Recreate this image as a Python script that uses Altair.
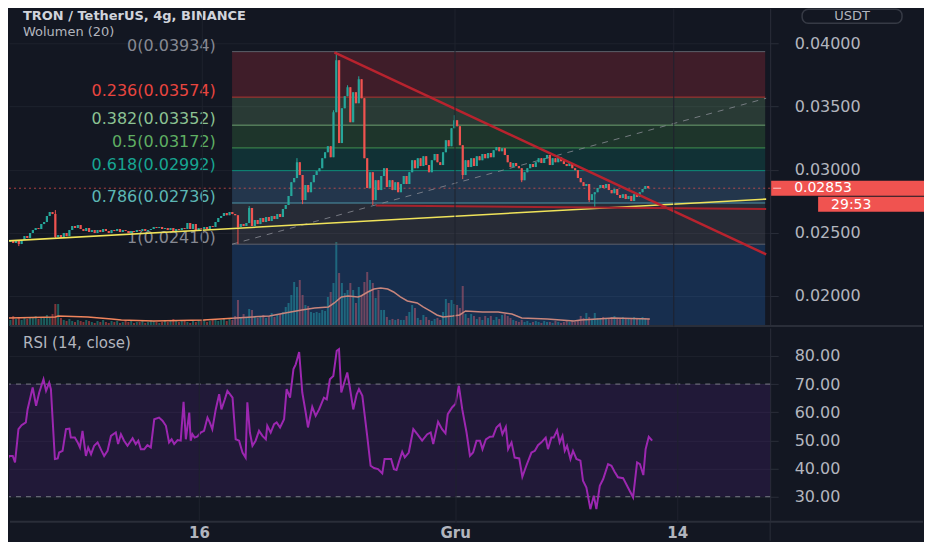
import altair as alt
import pandas as pd

# ---------------- DATA ----------------
# TRX/USDT 4h candles, close prices in units of 1e-5 USDT
close_e5 = [
    2427, 2443, 2419, 2435, 2411, 2443, 2474, 2459, 2498, 2522,
    2538, 2530, 2569, 2585, 2633, 2664, 2648, 2467, 2482, 2459,
    2498, 2474, 2522, 2554, 2538, 2561, 2530, 2514, 2538, 2506,
    2522, 2498, 2522, 2506, 2530, 2514, 2498, 2522, 2514, 2530,
    2506, 2522, 2514, 2498, 2514, 2506, 2522, 2514, 2530, 2514,
    2522, 2530, 2546, 2538, 2546, 2530, 2538, 2522, 2538, 2514,
    2530, 2522, 2538, 2530, 2577, 2530, 2569, 2522, 2538, 2530,
    2546, 2530, 2554, 2546, 2585, 2617, 2633, 2656, 2640, 2664,
    2648, 2640, 2546, 2569, 2554, 2577, 2696, 2554, 2601, 2569,
    2617, 2585, 2625, 2593, 2633, 2609, 2648, 2625, 2688, 2720,
    2791, 2901, 2933, 3059, 2957, 2759, 2878, 2822, 2901, 2957,
    2988, 3012, 3091, 3138, 3186, 3099, 3455, 3866, 3210, 3486,
    3581, 3652, 3376, 3613, 3526, 3715, 3565, 3091, 2854, 2980,
    2759, 2917, 2838, 2949, 3012, 2862, 2917, 2838, 2901, 2822,
    2886, 2949, 2886, 2980, 3075, 3012, 3091, 3028, 3107, 3036,
    2980, 3075, 3123, 3059, 3036, 3138, 3233, 3186, 3328, 3391,
    3344, 3194, 2957, 3075, 3020, 3091, 3028, 3107, 3075, 3123,
    3091, 3131, 3099, 3154, 3178, 3146, 3170, 3115, 3059, 3020,
    3052, 3028, 3012, 2917, 2980, 3012, 3044, 3020, 3059, 3091,
    3052, 3091, 3115, 3036, 3091, 3059, 3099, 3067, 3044, 3028,
    3052, 3012, 2996, 2933, 2901, 2870, 2886, 2759, 2806, 2822,
    2854, 2878, 2854, 2886, 2838, 2814, 2846, 2799, 2775, 2806,
    2767, 2791, 2751, 2806, 2783, 2822, 2846, 2870, 2853,
]
first_open = 0.02443
# notable wicks (candle index -> price)
wick_high = {17: 0.02680, 86: 0.02712, 103: 0.03091, 116: 0.03470, 117: 0.03934,
             121: 0.03668, 125: 0.03739, 159: 0.03431}
wick_low = {4: 0.02395, 17: 0.02451, 82: 0.02410, 105: 0.02727, 130: 0.02720,
            162: 0.02925, 183: 0.02901, 207: 0.02743, 209: 0.02704}

# volume per candle (millions TRX)
volume_m = [
    80, 60, 100, 70, 90, 60, 80, 70, 90, 80, 100, 70, 90, 80, 110, 90, 120,
    220, 220,
    80, 60, 50, 70, 50, 40, 60, 50, 40, 60,
    50, 40, 30, 50, 40, 60, 40, 30, 50, 40,
    50, 30, 40, 60, 40, 50, 30, 40, 40, 50,
    30, 40, 60, 50, 40, 30, 40, 50, 40, 50,
    70, 50, 40, 60, 50, 40, 30, 50, 40, 60,
    50, 60, 40, 50, 70, 60, 50, 60, 80, 50,
    70, 60,
    100, 260, 90, 120, 80, 170, 160, 100, 80, 90,
    110, 80, 100, 130, 90, 110, 120, 140, 190, 230,
    310, 440, 390, 460, 310, 210, 200, 140, 130, 140,
    130, 160, 150, 290, 340, 430, 840, 530, 430, 330,
    360, 430, 360, 230, 390, 310, 440, 540, 460, 430,
    280, 360, 160, 160, 90, 60, 70,
    60, 70, 60, 60, 100, 140, 210, 180, 80, 60,
    110, 90, 60, 50, 70, 80, 60, 140, 270, 230,
    260, 220, 210, 180, 400,
    120, 80, 120, 100, 70, 90, 60, 100, 80, 100,
    60, 90, 70, 110, 120, 100, 80, 60,
    50, 40, 60, 40, 50, 30, 40, 50, 40, 30,
    50, 40, 40, 30, 50, 40, 30, 40, 50, 40,
    50, 40, 60, 100, 80, 130, 90, 70, 130, 80,
    70, 90, 80, 70, 90, 100, 80, 70, 90, 80,
    70, 80, 90, 80, 70, 90, 80, 70,
]
# volume 20-period moving average (candle index, millions)
vol_ma_idx = [0, 17, 18, 28.6, 37, 40.5, 52, 69.7, 75.6, 81.2,
              87.2, 93.2, 98.8, 104.7, 109.3, 114.2, 116.3, 118.8, 121.2, 124.7,
              125.8, 128.2, 130.4, 132.8, 135.3, 137.4, 139.8, 142.3, 145.8, 147.9,
              150.4, 152.8, 155, 158.4, 160.9, 163, 169, 174.6, 179.5, 183,
              192.1, 201.6, 204, 215.6, 228.6]
vol_ma_val = [80, 90, 100, 90, 70, 60, 50, 60, 70, 80,
              90, 100, 130, 160, 180, 190, 230, 290, 300, 290,
              300, 340, 370, 380, 370, 340, 290, 250, 230, 190,
              150, 110, 90, 100, 110, 150, 140, 140, 120, 80,
              70, 50, 60, 80, 70]

# RSI(14, close) (candle index, value)
rsi_idx = [0, 1.2, 2.4, 3.6, 4.4, 5.6, 6.7, 8.2, 8.8, 10.6,
           11.8, 12.9, 14.4, 15.3, 16.4, 17.0, 18.4, 19.4, 19.9, 21.1,
           22.3, 23.5, 24.0, 25.4, 26.4, 27.2, 28.1, 29.3, 30.1, 31.1,
           32.2, 33.4, 34.8, 35.7, 36.9, 38.1, 39.8, 40.6, 41.6, 42.7,
           43.9, 45.7, 46.8, 47.7, 48.6, 49.8, 50.9, 52.1, 53.3, 55.0,
           56.2, 57.4, 58.5, 59.4, 60.3, 61.5, 62.6, 63.6, 64.4, 65.0,
           65.6, 66.1, 66.7, 67.5, 68.5, 69.6, 70.8, 72.0, 72.8, 73.7,
           74.9, 76.1, 76.9, 78.1, 79.0, 80.8, 81.9, 83.1, 84.3, 85.4,
           86.0, 86.9, 87.8, 88.9, 90.1, 91.3, 92.5, 93.0, 94.2, 95.4,
           96.3, 97.5, 98.9, 99.8, 101.0, 102.2, 103.0, 104.2, 105.3, 106.5,
           107.3, 108.8, 110.0, 111.2, 112.9, 113.9, 115.0, 116.2, 117.4, 118.2,
           119.0, 119.9, 121.1, 122.0, 123.2, 124.4, 125.2, 126.4, 128.1, 129.3,
           130.5, 131.9, 133.4, 134.2, 135.7, 136.5, 137.5, 138.4, 139.2, 140.4,
           141.3, 142.7, 144.3, 145.7, 147.4, 149.2, 150.4, 151.3, 153.0, 154.4,
           155.6, 156.4, 157.9, 159.1, 160.3, 161.5, 163.0, 164.2, 165.3, 166.5,
           167.7, 168.6, 169.8, 171.2, 172.3, 173.5, 174.7, 175.6, 176.8, 177.6,
           178.8, 179.9, 181.5, 182.6, 184.0, 185.8, 187.0, 188.1, 189.3, 190.8,
           191.6, 192.8, 193.6, 194.8, 195.7, 196.7, 197.5, 198.3, 199.5, 200.4,
           201.6, 203.0, 203.9, 205.1, 206.5, 207.7, 208.6, 209.8, 211.0, 212.7,
           213.9, 215.0, 216.2, 218.0, 219.7, 221.5, 222.9, 223.9, 225.1, 225.9,
           227.0, 228.2]
rsi_val = [42.8, 42.2, 44.5, 44.5, 42.2, 54.0, 55.4, 56.4, 61.0, 68.8,
           62.3, 67.0, 71.7, 67.6, 70.5, 68.2, 43.4, 43.6, 45.7, 46.3,
           54.0, 54.2, 51.0, 51.0, 49.3, 47.5, 53.4, 44.5, 47.5, 45.1,
           48.1, 49.3, 46.3, 44.5, 46.3, 51.6, 52.8, 48.7, 52.2, 49.9,
           48.1, 50.8, 48.7, 49.9, 46.9, 46.9, 48.3, 47.5, 57.5, 58.1,
           57.0, 55.2, 49.3, 50.4, 48.7, 50.1, 49.9, 63.7, 50.4, 55.2,
           59.9, 49.9, 52.2, 51.0, 51.4, 52.8, 53.4, 58.1, 56.4, 54.0,
           61.0, 66.4, 61.0, 64.6, 67.6, 65.2, 50.4, 49.9, 45.7, 43.9,
           63.5, 52.8, 48.1, 49.9, 53.4, 51.6, 50.4, 55.2, 52.8, 55.8,
           56.4, 54.6, 57.5, 68.2, 65.2, 75.3, 77.0, 81.4, 67.0, 59.9,
           54.6, 61.9, 58.7, 61.0, 65.2, 64.6, 71.7, 72.9, 81.8, 82.4,
           67.0, 70.0, 74.1, 68.8, 61.0, 66.4, 68.2, 65.8, 51.6, 41.0,
           40.2, 39.8, 38.3, 43.4, 43.4, 43.4, 39.8, 39.5, 42.2, 46.0,
           44.0, 45.7, 54.0, 52.2, 49.9, 52.2, 52.8, 48.7, 56.6, 54.0,
           52.5, 59.3, 61.7, 62.9, 69.4, 61.0, 52.8, 44.5, 45.7, 49.9,
           49.9, 46.9, 50.4, 51.3, 51.4, 54.6, 55.8, 52.2, 54.8, 46.9,
           49.3, 43.9, 43.6, 37.1, 41.0, 45.7, 46.3, 48.3, 49.3, 51.0,
           46.9, 51.0, 51.0, 53.6, 49.3, 51.6, 46.3, 48.1, 43.4, 46.3,
           43.4, 42.8, 35.7, 33.3, 25.6, 30.4, 25.6, 33.9, 36.3, 41.6,
           41.0, 38.9, 36.9, 36.6, 33.3, 29.8, 42.2, 41.6, 37.7, 46.9,
           51.3, 49.9]

# Fibonacci retracement
fib_ratio = ["0", "0.236", "0.382", "0.5", "0.618", "0.786", "1", "1.618"]
fib_price = [0.03934, 0.03574, 0.03352, 0.03172, 0.02992, 0.02736, 0.02410, 0.01468]
fib_start_idx = 79.9

# drawn trend lines: (candle index, price) anchors
yellow_line = [(0, 0.02436), (270, 0.02767)]
red_down_line = [(116.3, 0.03929), (270, 0.02329)]
red_flat_line = [(131.1, 0.02716), (270, 0.02688)]
gray_dash_line = [(79.9, 0.02410), (270, 0.03565)]

last_price = 0.02853
countdown = "29:53"
title_txt = "TRON / TetherUS, 4g, BINANCE"
vol_txt = "Wolumen (20)"
rsi_txt = "RSI (14, close)"
currency_txt = "USDT"
x_tick_idx = [69, 159, 237]
x_tick_lbl = ["16", "Gru", "14"]
price_ticks = [0.020, 0.025, 0.030, 0.035, 0.040]
rsi_ticks = [30, 40, 50, 60, 70, 80]

# ---------------- STYLE ----------------
BG = "#131722"
GRID = "#1e222d"
AXLINE = "#2a2e39"
TXT = "#b2b5be"
FONT = "DejaVu Sans"
UP = "#26a69a"
DOWN = "#ef5350"
TAG = "#f05350"
fib_line_color = ["#5d606b", "#b3332f", "#6c9f70", "#3f9150", "#0c8c78", "#4c95a8", "#5d606b", "#2962ff"]
fib_text_color = ["#868993", "#e8453f", "#8cc293", "#5fae62", "#17a592", "#5cb6b4", "#868993", "#2962ff"]
fib_zone_color = ["#f23645", "#81c784", "#4caf50", "#089981", "#64b5f6", "#787b86", "#288cff"]

assert len(close_e5) == len(volume_m)
assert len(rsi_idx) == len(rsi_val)
assert len(vol_ma_idx) == len(vol_ma_val)

# ---------------- TABLES ----------------
n = len(close_e5)
closes = [c / 1e5 for c in close_e5]
opens = [first_open] + closes[:-1]
rows = []
for i in range(n):
    o, c = opens[i], closes[i]
    rows.append({"i": i, "open": o, "close": c,
                 "high": max(o, c, wick_high.get(i, 0.0)),
                 "low": min(o, c, wick_low.get(i, 1.0)),
                 "vol": volume_m[i],
                 "col": UP if c >= o else DOWN})
candles = pd.DataFrame(rows)
ma_df = pd.DataFrame({"i": vol_ma_idx, "v": vol_ma_val})
rsi_df = pd.DataFrame({"i": rsi_idx, "r": rsi_val})

X_DOMAIN = [2.281, 269.65]
fib_zones = pd.DataFrame({
    "x0": [fib_start_idx] * 7, "x1": [X_DOMAIN[1]] * 7,
    "top": fib_price[:-1], "bot": fib_price[1:], "col": fib_zone_color})
fib_lines = pd.DataFrame({
    "x0": [fib_start_idx] * 8, "x1": [X_DOMAIN[1]] * 8,
    "p": fib_price, "col": fib_line_color})
fib_labels = pd.DataFrame({
    "p": fib_price[:7],
    "t": [f"{r}({p:.5f})" for r, p in zip(fib_ratio[:7], fib_price[:7])],
    "col": fib_text_color[:7]})


def line_df(pts):
    return pd.DataFrame({"i": [a for a, b in pts], "p": [b for a, b in pts]})


# ---------------- SCALES / AXES ----------------
W = 762          # plot width
HP = 318         # price panel height
HR = 194         # RSI panel height
xs = alt.Scale(domain=X_DOMAIN, nice=False, zero=False)
ys = alt.Scale(domain=[0.01763, 0.04277], nice=False, zero=False)
vs = alt.Scale(domain=[0, 3180], nice=False, zero=True)
rs = alt.Scale(domain=[21.13, 89.93], nice=False, zero=False)

xax_price = alt.Axis(values=x_tick_idx, labels=False, ticks=False, domain=False,
                     grid=True, gridColor=GRID, title=None, zindex=1)
pax = alt.Axis(orient="right", values=price_ticks, format=".5f", title=None,
               labelColor=TXT, labelFontSize=16, labelFont=FONT, tickSize=8,
               tickColor=AXLINE, labelPadding=16, domainColor=AXLINE,
               grid=True, gridColor=GRID, labelOverlap=False, labelFlush=False)
rax = alt.Axis(orient="right", values=rsi_ticks, format=".2f", title=None,
               labelColor=TXT, labelFontSize=16, labelFont=FONT, tickSize=8,
               tickColor=AXLINE, labelPadding=16, domainColor=AXLINE,
               grid=True, gridColor=GRID, labelOverlap=False, labelFlush=False)
label_expr = " : ".join(f"datum.value == {v} ? '{t}'" for v, t in zip(x_tick_idx[:-1], x_tick_lbl[:-1])) + f" : '{x_tick_lbl[-1]}'"
xax_rsi = alt.Axis(values=x_tick_idx, labelExpr=label_expr, ticks=False, domain=False,
                   grid=True, gridColor=GRID, title=None, labelColor=TXT,
                   labelFontSize=15, labelFont=FONT, labelFontWeight="bold",
                   labelPadding=4, labelFlush=False, zindex=1)


def Xp(f):
    return alt.X(f, scale=xs, axis=xax_price)


def Yp(f):
    return alt.Y(f, scale=ys, axis=pax)


def Xr(f):
    return alt.X(f, scale=xs, axis=xax_rsi)


def Yr(f):
    return alt.Y(f, scale=rs, axis=rax)


one = pd.DataFrame({"a": [0]})

# ---------------- PRICE PANEL ----------------
vol_bars = alt.Chart(candles).mark_bar(size=2, opacity=0.5, clip=True).encode(
    x=Xp("i:Q"), y=alt.Y("vol:Q", scale=vs, axis=None),
    color=alt.Color("col:N", scale=None))
vol_ma = alt.Chart(ma_df).mark_line(color="#f0845c", strokeWidth=1.5, clip=True).encode(
    x=Xp("i:Q"), y=alt.Y("v:Q", scale=vs, axis=None))
vol_layer = alt.layer(vol_bars, vol_ma)

zones = alt.Chart(fib_zones).mark_rect(opacity=0.2, clip=True).encode(
    x=Xp("x0:Q"), x2="x1:Q", y=Yp("top:Q"), y2="bot:Q",
    color=alt.Color("col:N", scale=None))
levels = alt.Chart(fib_lines).mark_rule(strokeWidth=1, clip=True).encode(
    x=Xp("x0:Q"), x2="x1:Q", y=Yp("p:Q"), color=alt.Color("col:N", scale=None))
level_txt = alt.Chart(fib_labels).mark_text(
    align="right", baseline="alphabetic", dy=-1, fontSize=16, font=FONT).encode(
    x=alt.value(207), y=Yp("p:Q"), text="t:N", color=alt.Color("col:N", scale=None))
gray_dash = alt.Chart(line_df(gray_dash_line)).mark_line(
    color="#8a8d96", strokeWidth=1, strokeDash=[6, 6], opacity=0.8, clip=True).encode(
    x=Xp("i:Q"), y=Yp("p:Q"))
price_line = alt.Chart(pd.DataFrame({"p": [last_price]})).mark_rule(
    color="#ef5350", strokeDash=[2, 3], opacity=0.7).encode(y=Yp("p:Q"))
wicks = alt.Chart(candles).mark_rule(strokeWidth=1, clip=True).encode(
    x=Xp("i:Q"), y=Yp("low:Q"), y2="high:Q", color=alt.Color("col:N", scale=None))
bodies = alt.Chart(candles).mark_bar(size=2.2, clip=True).encode(
    x=Xp("i:Q"), y=Yp("open:Q"), y2="close:Q", color=alt.Color("col:N", scale=None))
yellow = alt.Chart(line_df(yellow_line)).mark_line(
    color="#f0e35a", strokeWidth=1.6, clip=True).encode(x=Xp("i:Q"), y=Yp("p:Q"))
red_down = alt.Chart(line_df(red_down_line)).mark_line(
    color="#b8232e", strokeWidth=2.5, clip=True).encode(x=Xp("i:Q"), y=Yp("p:Q"))
red_flat = alt.Chart(line_df(red_flat_line)).mark_line(
    color="#a8222c", strokeWidth=2, clip=True).encode(x=Xp("i:Q"), y=Yp("p:Q"))

title_mark = alt.Chart(pd.DataFrame({"t": [title_txt]})).mark_text(
    align="left", baseline="alphabetic", fontSize=13, fontWeight="bold",
    font=FONT, color="#d1d4dc").encode(x=alt.value(14), y=alt.value(12), text="t:N")
vol_title = alt.Chart(pd.DataFrame({"t": [vol_txt]})).mark_text(
    align="left", baseline="alphabetic", fontSize=13, font=FONT, color=TXT).encode(
    x=alt.value(14), y=alt.value(28), text="t:N")

tag_df = pd.DataFrame({"p": [last_price], "t": [f"{last_price:.5f}"], "cd": [countdown]})
tag_box = alt.Chart(tag_df).mark_rect(color=TAG, yOffset=-7.5, y2Offset=7.5).encode(
    x=alt.value(763), x2=alt.value(916), y=Yp("p:Q"), y2="p:Q")
cd_box = alt.Chart(tag_df).mark_rect(color=TAG, yOffset=8.5, y2Offset=23.5).encode(
    x=alt.value(810), x2=alt.value(916), y=Yp("p:Q"), y2="p:Q")
tag_dash = alt.Chart(tag_df).mark_rule(color="#ffffff", strokeWidth=1, opacity=0.7).encode(
    x=alt.value(765), x2=alt.value(773), y=Yp("p:Q"))
tag_txt = alt.Chart(tag_df).mark_text(
    align="left", baseline="middle", fontSize=14, font=FONT, color="#ffffff").encode(
    x=alt.value(786), y=Yp("p:Q"), text="t:N")
cd_txt = alt.Chart(tag_df).mark_text(
    align="left", baseline="middle", fontSize=14, font=FONT, color="#ffffff", yOffset=16.5).encode(
    x=alt.value(823), y=Yp("p:Q"), text="cd:N")

usdt_box = alt.Chart(one).mark_rect(
    fill=BG, stroke="#363a45", strokeWidth=1.5, cornerRadius=6).encode(
    x=alt.value(794), x2=alt.value(894), y=alt.value(1), y2=alt.value(15))
usdt_txt = alt.Chart(pd.DataFrame({"t": [currency_txt]})).mark_text(
    align="center", baseline="middle", fontSize=13, font=FONT, color=TXT).encode(
    x=alt.value(844), y=alt.value(8), text="t:N")
sep_price = alt.Chart(one).mark_rule(color=AXLINE, strokeWidth=2).encode(
    x=alt.value(1), x2=alt.value(915), y=alt.value(HP))

price_main = alt.layer(
    zones, levels, level_txt, gray_dash, price_line, wicks, bodies,
    yellow, red_down, red_flat, title_mark, vol_title,
    tag_box, cd_box, tag_dash, tag_txt, cd_txt, usdt_box, usdt_txt, sep_price)

price_chart = alt.layer(vol_layer, price_main).resolve_scale(
    y="independent").properties(width=W, height=HP)

# ---------------- RSI PANEL ----------------
band = alt.Chart(pd.DataFrame({"lo": [30], "hi": [70]})).mark_rect(
    color="#8a2be2", opacity=0.12).encode(
    x=alt.value(0), x2=alt.value("width"), y=Yr("lo:Q"), y2="hi:Q")
bounds = alt.Chart(pd.DataFrame({"v": [30, 70]})).mark_rule(
    color="#787b86", strokeDash=[5, 5], strokeWidth=1).encode(y=Yr("v:Q"))
rsi_line = alt.Chart(rsi_df).mark_line(color="#9c27b0", strokeWidth=2, clip=True).encode(
    x=Xr("i:Q"), y=Yr("r:Q"))
rsi_title = alt.Chart(pd.DataFrame({"t": [rsi_txt]})).mark_text(
    align="left", baseline="alphabetic", fontSize=15, font=FONT, color=TXT).encode(
    x=alt.value(14), y=alt.value(20), text="t:N")
sep_rsi = alt.Chart(one).mark_rule(color=AXLINE, strokeWidth=2).encode(
    x=alt.value(1), x2=alt.value(915), y=alt.value(HR))
vsep = alt.Chart(one).mark_rule(color=AXLINE, strokeWidth=1).encode(
    x=alt.value(W), y=alt.value(HR), y2=alt.value(HR + 19))

rsi_chart = alt.layer(band, bounds, rsi_line, rsi_title, sep_rsi, vsep).properties(
    width=W, height=HR)

chart = alt.vconcat(price_chart, rsi_chart, spacing=1).properties(
    padding={"left": 0, "top": 0, "right": 0, "bottom": 0}
).configure(background=BG, font=FONT).configure_view(stroke=None)

chart.save("out.html", embed_options={"renderer": "svg", "actions": False})
